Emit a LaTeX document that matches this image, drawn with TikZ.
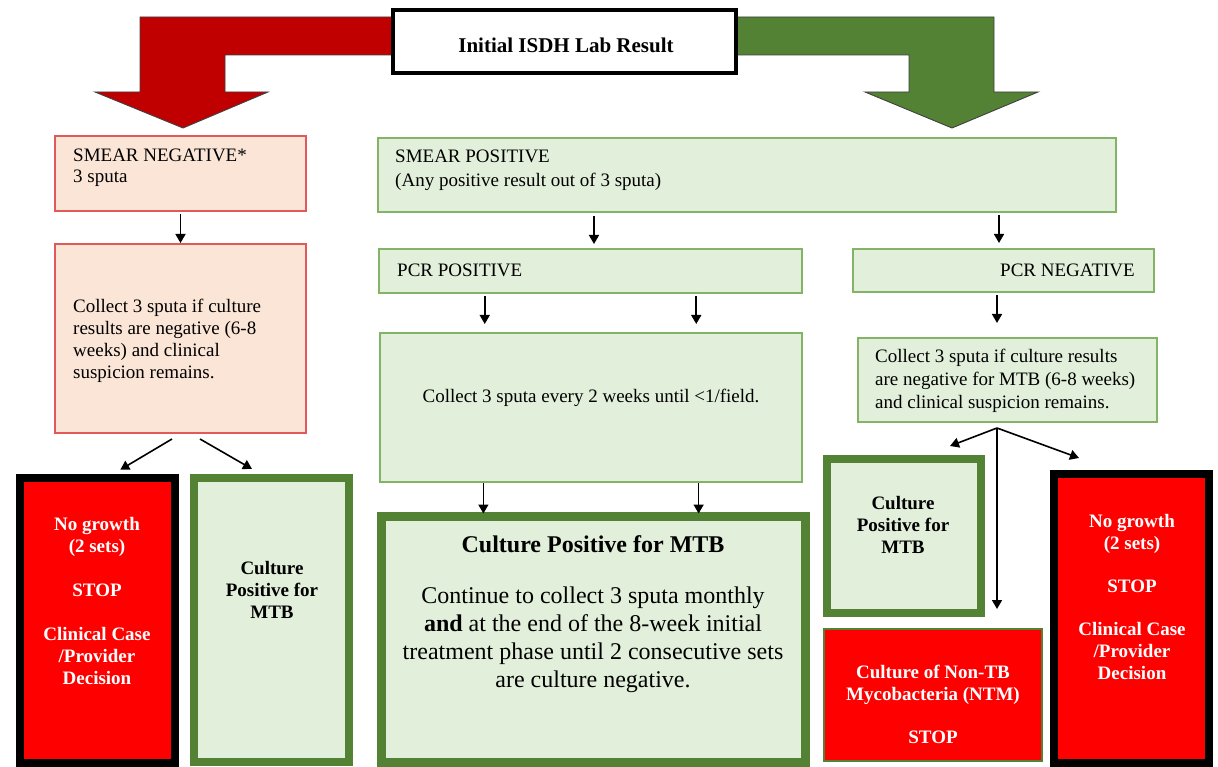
\documentclass[tikz,border=0pt]{standalone}
\usepackage{fontspec}
\setmainfont{Liberation Serif}
\usetikzlibrary{arrows.meta,calc}
\definecolor{pinkfill}{HTML}{FBE5D6}
\definecolor{pinkline}{HTML}{E05A5A}
\definecolor{greenfill}{HTML}{E2EFDA}
\definecolor{greenline}{HTML}{82B366}
\definecolor{darkgreen}{HTML}{548235}
\definecolor{arrowred}{HTML}{C00000}
\definecolor{arrowgreen}{HTML}{548235}
\definecolor{stopred}{HTML}{FF0000}
\newcommand\txtN{\fontsize{19pt}{22pt}\selectfont}
\newcommand\txtB{\fontsize{19pt}{22pt}\selectfont\bfseries}
\newcommand\txtT{\fontsize{21pt}{24pt}\selectfont\bfseries}
\newcommand\txtL{\fontsize{24pt}{28pt}\selectfont}
\tikzset{
  boxbase/.style={rectangle, inner sep=0pt, outer sep=0pt, anchor=north west},
  pinkbox/.style={boxbase, draw=pinkline, fill=pinkfill, line width=2pt},
  greenbox/.style={boxbase, draw=greenline, fill=greenfill, line width=2pt},
  thickgreen/.style={boxbase, draw=darkgreen, fill=greenfill, line width=8pt},
  stopbox/.style={boxbase, draw=black, fill=stopred, line width=7.5pt},
  ntmbox/.style={boxbase, draw=darkgreen, fill=stopred, line width=2pt},
  titlebox/.style={boxbase, draw=black, fill=white, line width=4pt},
  tN/.style={inner sep=0pt, font=\txtN, align=left},
  tC/.style={inner sep=0pt, font=\txtN, align=center},
  tW/.style={inner sep=0pt, font=\txtB, align=center, text=white},
  tK/.style={inner sep=0pt, font=\txtB, align=center, text=black},
  arr/.style={-{Triangle[width=10pt,length=9pt]}, line width=1.6pt, black},
  bigarrow/.style={line width=0.9pt, draw=black!75, line join=miter},
}
\begin{document}
\begin{tikzpicture}[x=1pt,y=-1pt]
\useasboundingbox (0,0) rectangle (1218,767);
\fill[white] (0,0) rectangle (1218,767);

% big bent arrows
\filldraw[bigarrow, fill=arrowred] (395,17) -- (140,17) -- (140,92) -- (95,92) -- (183,128)
  -- (268,92) -- (225,92) -- (225,55) -- (395,55) -- cycle;
\filldraw[bigarrow, fill=arrowgreen] (734,17) -- (994,17) -- (994,92) -- (1038,92) -- (952,128)
  -- (865,92) -- (909,92) -- (909,55) -- (734,55) -- cycle;

% title
\node[titlebox, minimum width=343, minimum height=63] (top) at (393,10) {};
\node[inner sep=0pt, font=\txtT, anchor=base] (topT) at (566,53) {Initial ISDH Lab Result};

% left column
\node[pinkbox, minimum width=251, minimum height=75] (sn) at (55,136) {};
\node[tN, anchor=base west] (snT) at (73,183) {SMEAR NEGATIVE*\\[-1pt]3 sputa};
\node[pinkbox, minimum width=251, minimum height=189] (lc) at (55,244) {};
\node[tN, anchor=base west] (lcT) at (73,378) {Collect 3 sputa if culture\\results are negative (6-8\\weeks) and clinical\\suspicion remains.};
\node[stopbox, minimum width=155, minimum height=285] (ls) at (19.75,477.75) {};
\node[tW, anchor=base] (lsT) at (97,684) {No growth\\(2 sets)\\[22pt]STOP\\[22pt]Clinical Case\\/Provider\\Decision};
\node[thickgreen, minimum width=155, minimum height=284] (lg) at (194,478) {};
\node[tK, anchor=base] (lgT) at (272,618) {Culture\\Positive for\\MTB};

% middle column
\node[greenbox, minimum width=738, minimum height=74] (sp) at (378,138) {};
\node[tN, anchor=base west] (spT) at (395,187) {SMEAR POSITIVE\\[2pt](Any positive result out of 3 sputa)};
\node[greenbox, minimum width=423, minimum height=44] (pp) at (379,249) {};
\node[tN, anchor=base west] (ppT) at (397,277) {PCR POSITIVE};
\node[greenbox, minimum width=422, minimum height=149] (mc) at (380,333) {};
\node[tC, anchor=base] (mcT) at (591,402) {Collect 3 sputa every 2 weeks until <1/field.};
\node[boxbase, draw=darkgreen, fill=greenfill, line width=9pt, minimum width=424, minimum height=246] (mb) at (381.5,516.5) {};
\node[inner sep=0pt, font=\fontsize{24pt}{28pt}\selectfont\bfseries, anchor=base] (mbT1) at (593,552) {Culture Positive for MTB};
\node[inner sep=0pt, font=\txtL, align=center, anchor=base] (mbT2) at (593,687) {Continue to collect 3 sputa monthly\\\textbf{and} at the end of the 8-week initial\\treatment phase until 2 consecutive sets\\are culture negative.};

% right column
\node[greenbox, minimum width=301, minimum height=43] (pn) at (853,249) {};
\node[tN, anchor=base east] (pnT) at (1135,277) {PCR NEGATIVE};
\node[greenbox, minimum width=299, minimum height=84] (rc) at (858,338) {};
\node[tN, anchor=base west] (rcT) at (875,408) {Collect 3 sputa if culture results\\[1pt]are negative for MTB (6-8 weeks)\\[1pt]and clinical suspicion remains.};
\node[thickgreen, minimum width=154, minimum height=154] (rg) at (827,459) {};
\node[tK, anchor=base] (rgT) at (903,553) {Culture\\Positive for\\MTB};
\node[ntmbox, minimum width=218, minimum height=132] (ntm) at (824,629) {};
\node[tW, anchor=base] (ntmT) at (933,743) {Culture of Non-TB\\Mycobacteria (NTM)\\[21pt]STOP};
\node[stopbox, minimum width=155, minimum height=289] (rs) at (1054,474) {};
\node[tW, anchor=base] (rsT) at (1132,679) {No growth\\(2 sets)\\[21pt]STOP\\[21pt]Clinical Case\\/Provider\\Decision};

% connectors
\draw[arr, shorten <=3pt, shorten >=1pt] (sn.south) -- (lc.north);
\draw[arr] ([shift={(-8.5,6)}]lc.south) -- ([shift={(23,-8)}]ls.north);
\draw[arr] ([shift={(19.5,6)}]lc.south) -- ([shift={(-19.5,-9)}]lg.north);

\draw[arr, shorten <=4pt, shorten >=5pt] ([xshift=3.5pt]sp.south -| pp.north) -- ([xshift=3.5pt]pp.north);
\draw[arr, shorten <=3pt, shorten >=6pt] ([xshift=-4.5pt]sp.south -| pn.north) -- ([xshift=-4.5pt]pn.north);

\coordinate (p1) at ($(pp.south west)!0.25!(pp.south east)$);
\coordinate (p2) at ($(pp.south west)!0.75!(pp.south east)$);
\draw[arr, shorten <=3pt, shorten >=9pt] (p1) -- (p1 |- mc.north);
\draw[arr, shorten <=3pt, shorten >=9pt] (p2) -- (p2 |- mc.north);
\coordinate (m1) at ($(mc.south west)!0.245!(mc.south east)$);
\coordinate (m2) at ($(mc.south west)!0.755!(mc.south east)$);
\draw[arr, shorten <=1pt, shorten >=3pt] (m1) -- (m1 |- mb.north);
\draw[arr, shorten <=1pt, shorten >=3pt] (m2) -- (m2 |- mb.north);

\draw[arr, shorten <=3pt, shorten >=15pt] ([xshift=-6.5pt]pn.south) -- ([xshift=-6.5pt]pn.south |- rc.north);

\coordinate (fork) at ([shift={(-10.5,6)}]rc.south);
\draw[arr] (fork) -- ([shift={(46,-13)}]rg.north);
\draw[arr] (fork) -- ([shift={(-52.5,-16)}]rs.north);
\draw[arr, shorten >=20pt] (fork) -- (fork |- ntm.north);
\end{tikzpicture}
\end{document}
